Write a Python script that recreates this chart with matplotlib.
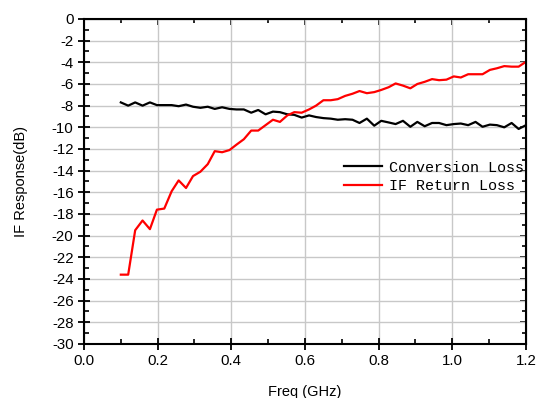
import matplotlib.pyplot as plt
from matplotlib.ticker import MultipleLocator

freq = [0.100, 0.120, 0.139, 0.159, 0.179, 0.198, 0.218, 0.238, 0.257, 0.277,
        0.296, 0.316, 0.336, 0.355, 0.375, 0.395, 0.414, 0.434, 0.454, 0.473,
        0.493, 0.513, 0.532, 0.552, 0.571, 0.591, 0.611, 0.630, 0.650, 0.670,
        0.689, 0.709, 0.729, 0.748, 0.768, 0.788, 0.807, 0.827, 0.846, 0.866,
        0.886, 0.905, 0.925, 0.945, 0.964, 0.984, 1.004, 1.023, 1.043, 1.063,
        1.082, 1.102, 1.121, 1.141, 1.161, 1.180, 1.200]

conversion_loss = [-7.7, -8.0, -7.7, -8.0, -7.7, -7.95, -7.95, -7.95, -8.05, -7.9,
                   -8.1, -8.2, -8.1, -8.3, -8.15, -8.3, -8.35, -8.35, -8.65, -8.4,
                   -8.8, -8.55, -8.6, -8.8, -8.85, -9.1, -8.9, -9.05, -9.15, -9.2,
                   -9.3, -9.25, -9.3, -9.6, -9.2, -9.85, -9.4, -9.55, -9.7, -9.4,
                   -9.95, -9.5, -9.9, -9.6, -9.6, -9.8, -9.7, -9.65, -9.8, -9.5,
                   -9.95, -9.75, -9.8, -10.0, -9.6, -10.15, -9.8]

if_return_loss = [-23.6, -23.6, -19.5, -18.6, -19.4, -17.6, -17.5, -15.9, -14.9, -15.6,
                  -14.5, -14.1, -13.4, -12.2, -12.3, -12.1, -11.6, -11.1, -10.3, -10.3,
                  -9.8, -9.3, -9.5, -8.9, -8.6, -8.65, -8.35, -8.0, -7.5, -7.5,
                  -7.4, -7.1, -6.9, -6.65, -6.85, -6.75, -6.55, -6.3, -5.95, -6.15,
                  -6.4, -6.0, -5.8, -5.55, -5.65, -5.6, -5.3, -5.4, -5.1, -5.1,
                  -5.1, -4.7, -4.55, -4.35, -4.4, -4.4, -3.95]

x_ticks = [0.0, 0.2, 0.4, 0.6, 0.8, 1.0, 1.2]
y_ticks = list(range(0, -31, -2))


def main():
    plt.rcParams['font.family'] = ['Liberation Sans', 'DejaVu Sans']
    plt.rcParams['axes.unicode_minus'] = False
    fig = plt.figure(figsize=(5.37, 3.98), dpi=100)
    ax = fig.add_axes([0.1564, 0.1357, 0.8231, 0.8166])

    ax.plot(freq, conversion_loss, color='black', lw=1.6, label='Conversion Loss')
    ax.plot(freq, if_return_loss, color='#ff0000', lw=1.6, label='IF Return Loss')

    ax.set_xlim(0, 1.2)
    ax.set_ylim(-30, 0)
    ax.set_xticks(x_ticks)
    ax.set_xticklabels([f"{t:.1f}" for t in x_ticks])
    ax.set_yticks(y_ticks)
    ax.xaxis.set_minor_locator(MultipleLocator(0.1))
    ax.yaxis.set_minor_locator(MultipleLocator(1))
    ax.grid(True, which='major', color='#c8c8c8', lw=1)
    ax.set_axisbelow(True)

    ax.tick_params(which='major', direction='inout', length=9, width=1.3,
                   labelsize=10.8, pad=3)
    ax.tick_params(which='minor', direction='in', length=3.5, width=1.2)
    for s in ax.spines.values():
        s.set_linewidth(1.5)

    top = ax.secondary_xaxis('top')
    top.xaxis.set_major_locator(MultipleLocator(0.2))
    top.xaxis.set_minor_locator(MultipleLocator(0.1))
    top.tick_params(which='both', direction='in', labeltop=False, width=1.2)
    top.tick_params(which='major', length=4)
    top.tick_params(which='minor', length=3)
    right = ax.secondary_yaxis('right')
    right.yaxis.set_major_locator(MultipleLocator(2))
    right.yaxis.set_minor_locator(MultipleLocator(1))
    right.tick_params(which='both', direction='in', labelright=False, width=1.2)
    right.tick_params(which='major', length=4)
    right.tick_params(which='minor', length=3)

    ax.set_xlabel('Freq (GHz)', fontsize=10.5, labelpad=12)
    ax.set_ylabel('IF Response(dB)', fontsize=10.5, labelpad=17)

    ax.legend(loc='upper left', bbox_to_anchor=(0.558, 0.606), frameon=False,
              prop={'family': 'Liberation Mono', 'size': 10.8},
              handlelength=2.5, handletextpad=0.5, labelspacing=0.3)

    fig.savefig('out.png', dpi=100)


if __name__ == "__main__":
    main()
